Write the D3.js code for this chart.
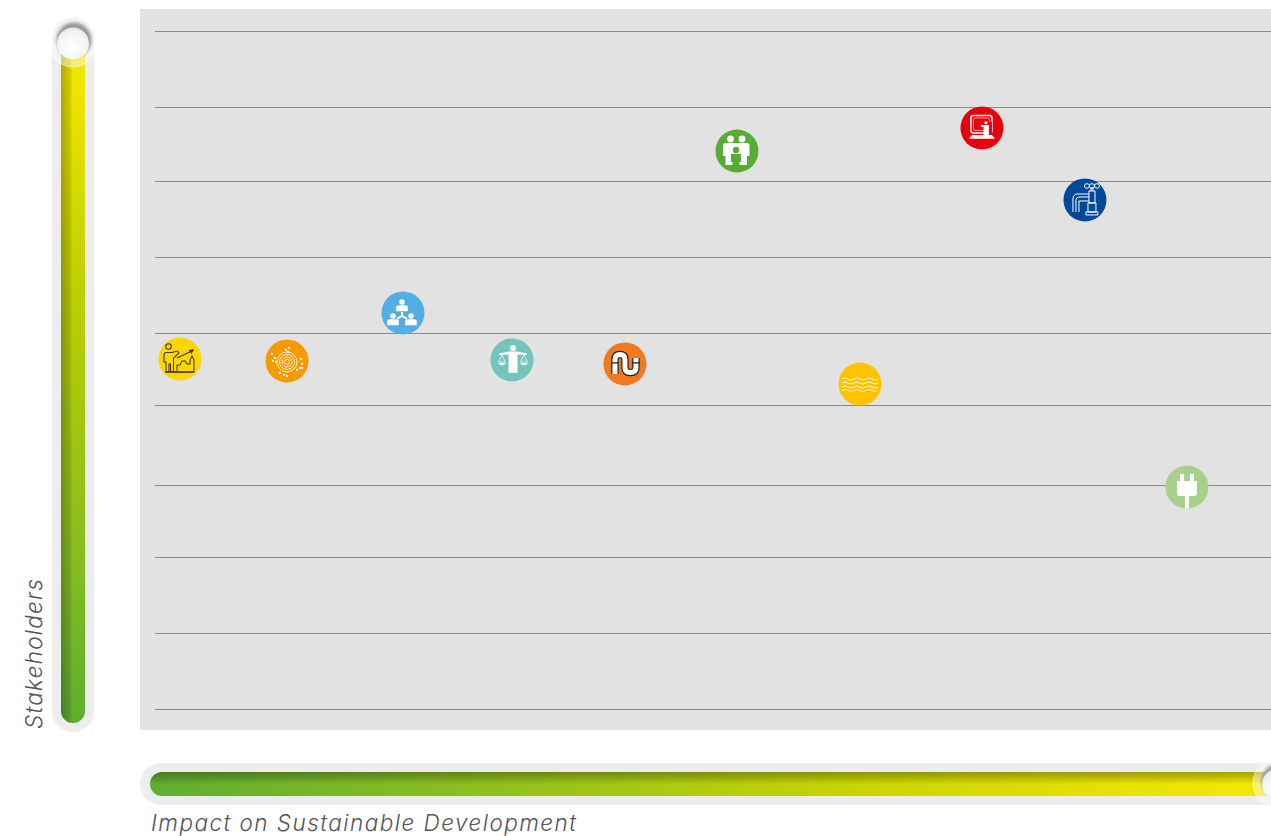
<!DOCTYPE html>
<html><head><meta charset="utf-8">
<script src="https://cdn.jsdelivr.net/npm/d3@7/dist/d3.min.js"></script>
<style>html,body{margin:0;padding:0;background:#fff;overflow:hidden}svg{display:block}</style>
</head><body><svg id="c" width="1271" height="836"></svg>
<script>
const goals=["growth","climate","partnership","justice","infrastructure","family","education","water","ocean","energy"];
const impactValues=[0.224,1.183,2.222,3.199,4.211,5.215,7.41,8.333,6.317,9.247];
const stakeholderValues=[4.646,4.62,5.257,4.633,4.58,7.407,7.713,6.757,4.314,2.947];
const goalColors=["#ffd500","#f59a00","#53aee3","#72c4bd","#f07a1f","#55ad33","#e8000f","#00489a","#ffc300","#a9cf8a"];
const gridValues=[0,1.009,2.018,2.973,4.035,4.991,6,7.009,7.991,9];
const xTitle="Impact on Sustainable Development";
const yTitle="Stakeholders";

const svg=d3.select("#c");
const x=d3.scaleLinear().domain([0,10]).range([155,1271]);
const y=d3.scaleLinear().domain([0,9]).range([709,31]);
const defs=svg.append("defs");
function grad(id,x2,y2,stops){const g=defs.append("linearGradient").attr("id",id).attr("x1",0).attr("y1",0).attr("x2",x2).attr("y2",y2);
 stops.forEach(s=>g.append("stop").attr("offset",s[0]).attr("stop-color",s[1]).attr("stop-opacity",s[2]==null?1:s[2]));}
grad("vG",0,1,[[0,"#f2e900"],[0.06,"#efe600"],[0.38,"#bccf00"],[0.75,"#88bd20"],[1,"#5fae30"]]);
grad("hG",1,0,[[0,"#5fae30"],[0.3,"#8fbf1e"],[0.62,"#c8d400"],[0.9,"#ebe400"],[1,"#f2e900"]]);
grad("vS",1,0,[[0,"#000",0.26],[0.35,"#000",0.13],[0.5,"#000",0],[1,"#000",0]]);
grad("hS",0,1,[[0,"#000",0.3],[0.3,"#000",0.14],[0.5,"#000",0],[1,"#000",0]]);
const rg=defs.append("radialGradient").attr("id","ball").attr("cx","50%").attr("cy","60%").attr("r","60%");
rg.append("stop").attr("offset",0).attr("stop-color","#fff");
rg.append("stop").attr("offset",0.75).attr("stop-color","#f4f4f4");
rg.append("stop").attr("offset",1).attr("stop-color","#e6e6e6");
defs.append("filter").attr("id","soft").attr("x","-30%").attr("y","-30%").attr("width","160%").attr("height","160%")
 .append("feGaussianBlur").attr("stdDeviation",1.8);
defs.append("filter").attr("id","soft2").attr("x","-10%").attr("y","-10%").attr("width","120%").attr("height","120%")
 .append("feGaussianBlur").attr("stdDeviation",.6);

// plot
svg.append("rect").attr("x",140).attr("y",9).attr("width",1131).attr("height",721).attr("fill","#e2e2e2");
svg.append("g").selectAll("line").data(gridValues).join("line")
 .attr("x1",x(0)).attr("x2",x(10)).attr("y1",d=>y(d)+.5).attr("y2",d=>y(d)+.5)
 .attr("stroke","#8a8a8a").attr("stroke-width",1);

// sliders
function knob(cx,cy){
 const g=svg.append("g").attr("transform",`translate(${cx},${cy})`);
 g.append("circle").attr("r",25).attr("fill","#fff").attr("fill-opacity",.42).attr("stroke","#fff").attr("stroke-opacity",.55);
 g.append("circle").attr("r",17.5).attr("cx",1).attr("cy",-2).attr("fill","#9a9a9a").attr("filter","url(#soft)");
 g.append("circle").attr("r",16).attr("cy",1.5).attr("fill","url(#ball)").attr("filter","url(#soft2)");
}
svg.append("rect").attr("x",52).attr("y",17).attr("width",42).attr("height",715).attr("rx",21).attr("fill","#ededed");
svg.append("rect").attr("x",61).attr("y",42).attr("width",24).attr("height",681).attr("rx",12).attr("fill","url(#vG)");
svg.append("rect").attr("x",61).attr("y",42).attr("width",24).attr("height",681).attr("rx",12).attr("fill","url(#vS)");
knob(73,42);
svg.append("rect").attr("x",140).attr("y",763).attr("width",1160).attr("height",42).attr("rx",21).attr("fill","#ededed");
svg.append("rect").attr("x",150).attr("y",772).attr("width",1130).attr("height",24).attr("rx",12).attr("fill","url(#hG)");
svg.append("rect").attr("x",150).attr("y",772).attr("width",1130).attr("height",24).attr("rx",12).attr("fill","url(#hS)");
knob(1278,783);

// titles
const tf="Inter, Lato, sans-serif";
svg.append("text").attr("x",151).attr("y",831).text(xTitle)
 .attr("font-family",tf).attr("font-style","italic").attr("font-weight",300).attr("font-size",22.5).attr("textLength",425).attr("lengthAdjust","spacing").attr("fill","#555");
svg.append("text").attr("transform","translate(42,729) rotate(-90)").text(yTitle)
 .attr("font-family",tf).attr("font-style","italic").attr("font-weight",300).attr("font-size",22.5).attr("textLength",150).attr("lengthAdjust","spacing").attr("fill","#555");

// icons in local coordinates around each circle's centre
const W="#fff";
function person(g,cx,cy,s,fill){
 g.append("circle").attr("cx",cx).attr("cy",cy-3.4*s).attr("r",1.9*s).attr("fill",fill);
 g.append("path").attr("d",`M${cx-4*s},${cy+3*s}V${cy}Q${cx-4*s},${cy-1.2*s} ${cx-2*s},${cy-1.2*s}H${cx+2*s}Q${cx+4*s},${cy-1.2*s} ${cx+4*s},${cy}V${cy+3*s}Z`).attr("fill",fill);
}
const icons={
 growth(g){const k="#3a3a2a";const p=g.append("g").attr("fill","none").attr("stroke",k).attr("stroke-width",1.05);
  p.append("circle").attr("cx",-11.5).attr("cy",-12.5).attr("r",2.8);
  p.append("path").attr("d","M-16,-3V3H-14V13H-11V5H-9.5V13H-6.5V-1L-1,-6L-2.5,-8L-8,-6.5H-14Q-16,-6.5 -16,-3Z");
  p.append("path").attr("d","M-6,13H14V1L12,-3L10,1V5H7L5,2L2,2L0,6L-3,6V13");
  p.append("path").attr("d","M-3,-1L12,-8M9,-8.5L13,-9L11,-5.5").attr("stroke-width",1.3);
  p.append("path").attr("d","M-15,13H14").attr("stroke-width",1.4);},
 climate(g){const p=g.append("g").attr("fill","none").attr("stroke",W).attr("stroke-width",.85).attr("transform","translate(0,1)");
  [2.5,5,7.5,10].forEach(r=>p.append("circle").attr("r",r));
  [[-15,-7],[-12,-3],[-14,0],[-11,1],[-1,-11],[2,-13],[1,-9],[14,-2],[15,3],[13,7],[10,9],[-3,14],[0,15],[-7,12],[15,7]]
   .forEach(d=>g.append("circle").attr("cx",d[0]).attr("cy",d[1]).attr("r",1.1).attr("fill",W));},
 partnership(g){person(g,-1,-6,1.45,W);person(g,-10,8,1.45,W);person(g,8,8,1.45,W);
  g.append("path").attr("d","M-1,-1V3L-6,6M-1,3L4,6").attr("stroke",W).attr("stroke-width",2).attr("fill","none");},
 justice(g){g.append("circle").attr("cx",1).attr("cy",-12).attr("r",3).attr("fill",W);
  g.append("path").attr("d","M-3.5,-8.5H5.5L15,-6.5V-5L5.5,-5.5V13H-3.5V-5.5L-13,-5V-6.5Z").attr("fill",W);
  g.append("path").attr("d","M-10,-5L-13.5,2H-6.5ZM12,-5L8.5,2H15.5Z").attr("fill","none").attr("stroke",W).attr("stroke-width",.7);
  g.append("path").attr("d","M-14,3Q-10,7.5 -6,3ZM8,3Q12,7.5 16,3Z").attr("fill",W);},
 infrastructure(g){const d="M-10,10V-4.5Q-10,-9.5 -5,-9.5Q0,-9.5 0,-4.5V3.5Q0,8.5 5.5,8.5Q11,8.5 11,3.5V-6";
  g.append("path").attr("d",d).attr("fill","none").attr("stroke","#222").attr("stroke-width",7.4);
  g.append("path").attr("d",d).attr("fill","none").attr("stroke",W).attr("stroke-width",5);
  g.append("path").attr("d","M-14,-1H-6M7,-1H15").attr("stroke","#222").attr("stroke-width",1.3);},
 family(g){[-6.5,5].forEach(c=>{g.append("circle").attr("cx",c).attr("cy",-12).attr("r",3.4).attr("fill",W);
   g.append("path").attr("d",`M${c-5},-8H${c+5}Q${c+7.5},-8 ${c+7.5},-5V5H${c+5}V14H${c-5}V5H${c-7.5}V-5Q${c-7.5},-8 ${c-5},-8Z`).attr("fill",W);});
  g.append("circle").attr("cx",-1).attr("cy",-1).attr("r",3.2).attr("fill","#55ad33");
  g.append("path").attr("d","M-6,3H4V11H2.5V18H-4.5V11H-6Z").attr("fill","#55ad33");},
 education(g){g.append("rect").attr("x",-11).attr("y",-12.5).attr("width",21).attr("height",17.5).attr("rx",2.5).attr("fill","none").attr("stroke",W).attr("stroke-width",1.5);
  g.append("rect").attr("x",-8.5).attr("y",-10).attr("width",16).attr("height",12.5).attr("rx",1.5).attr("fill","none").attr("stroke",W).attr("stroke-width",.6);
  g.append("rect").attr("x",2).attr("y",-6).attr("width",8).attr("height",13).attr("fill","#e8000f");
  g.append("circle").attr("cx",4).attr("cy",-5.2).attr("r",1.6).attr("fill",W);
  g.append("path").attr("d","M-1,-3H7V7H1.5V-1H-1Z").attr("fill",W);
  g.append("path").attr("d","M-10,7H10L13,10.7H-13Z").attr("fill",W);},
 water(g){const p=g.append("g").attr("fill","none").attr("stroke",W).attr("stroke-width",1);
  p.append("path").attr("d","M-12,12V-1Q-12,-6 -7,-6H4M-9,12V0Q-9,-3 -6,-3H4M-6,12V1H4");
  p.append("path").attr("d","M4,-9H10V3H4ZM3,3H11V12H3ZM1,12H13V15H1ZM6,-9V-12H8V-9");
  [2,7,12].forEach(c=>p.append("ellipse").attr("cx",c).attr("cy",-14).attr("rx",2.5).attr("ry",2.3));},
 ocean(g){[-5,-1,3,6.5].forEach((o,i)=>g.append("path").attr("d",`M-18,${o}q3,-2.2 6,0t6,0t6,0t6,0t6,0t6,0`).attr("fill","none").attr("stroke",W).attr("stroke-width",.9).attr("stroke-opacity",i==3?.8:1));},
 energy(g){g.append("path").attr("d","M-7,-13H-3V-6H3V-13H7V-6H10V6Q10,9 7,9H-7Q-10,9 -10,6V-6H-7Z").attr("fill",W);
  g.append("rect").attr("x",-2).attr("y",9).attr("width",4).attr("height",12.5).attr("fill",W);}
};
const marks=svg.append("g").selectAll("g").data(goals).join("g")
 .attr("transform",(d,i)=>`translate(${x(impactValues[i])},${y(stakeholderValues[i])})`);
marks.append("circle").attr("r",21.5).attr("fill",(d,i)=>goalColors[i]);
marks.each(function(d){icons[d](d3.select(this));});
</script></body></html>
